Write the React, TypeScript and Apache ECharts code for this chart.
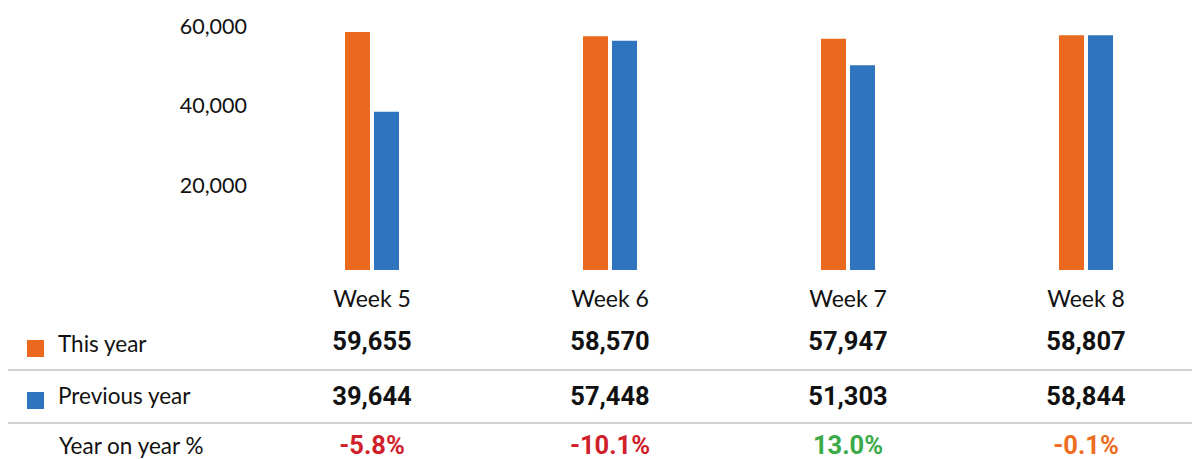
import React, { useEffect, useRef } from "react";
import * as echarts from "echarts";

const categories = ["Week 5", "Week 6", "Week 7", "Week 8"];
const thisYear = [59655, 58570, 57947, 58807];
const previousYear = [39644, 57448, 51303, 58844];
const yoyLabels = ["-5.8%", "-10.1%", "13.0%", "-0.1%"];
const yoyColors = ["#D0202A", "#D0202A", "#3BAA48", "#EE6C22"];
const seriesNames = ["This year", "Previous year"];
const yoyRowLabel = "Year on year %";

const ORANGE = "#EB681F";
const BLUE = "#2E74BE";
const fmt = (v: number) => v.toLocaleString("en-US");

export default function App() {
  const ref = useRef<HTMLDivElement>(null);
  useEffect(() => {
    document.body.style.margin = "0";
    const chart = echarts.init(ref.current!, null, { renderer: "svg" });
    const sansFont = "Lato";
    const numFont = "Roboto";
    const rowAxis = (data: string[], margin: number, extra: any = {}) => ({
      type: "category",
      gridIndex: 0,
      position: "bottom",
      data,
      axisLine: { show: false },
      axisTick: { show: false },
      splitLine: { show: false },
      axisLabel: {
        interval: 0,
        margin,
        verticalAlign: "middle",
        fontFamily: numFont,
        fontWeight: "bold",
        fontSize: 25.5,
        color: "#111",
        ...extra,
      },
    });
    chart.setOption({
      animation: false,
      grid: {
        left: 253,
        width: 952,
        top: 30.6,
        bottom: 189,
        outerBoundsMode: "none",
      },
      legend: {
        orient: "vertical",
        left: 22,
        top: 327,
        itemWidth: 17,
        itemHeight: 17,
        itemGap: 19,
        icon: "rect",
        data: seriesNames,
        selectedMode: false,
        formatter: "{a|{name}}",
        textStyle: {
          fontFamily: sansFont,
          fontSize: 22.5,
          color: "#111",
          padding: [0, 0, 0, 9],
          rich: {
            a: {
              fontFamily: sansFont,
              fontSize: 22.5,
              color: "#111",
              lineHeight: 22,
              padding: [0, 0, 10, 0],
            },
          },
        },
      },
      xAxis: [
        rowAxis(categories, 28, { fontFamily: sansFont, fontWeight: "normal", fontSize: 23 }),
        rowAxis(thisYear.map(fmt), 71),
        rowAxis(previousYear.map(fmt), 126),
        rowAxis(yoyLabels, 175, { color: (_v: any, i: number) => yoyColors[i] }),
      ],
      yAxis: {
        type: "value",
        min: 0,
        max: 60000,
        interval: 20000,
        axisLine: { show: false },
        axisTick: { show: false },
        splitLine: { show: false },
        axisLabel: {
          margin: 6,
          fontFamily: sansFont,
          fontSize: 21.5,
          color: "#111",
          verticalAlign: "bottom",
          lineHeight: 10,
          formatter: (v: number) => (v === 0 ? "" : fmt(v)),
        },
      },
      series: [
        {
          name: seriesNames[0],
          type: "bar",
          data: thisYear,
          barWidth: 25,
          barGap: "16%",
          itemStyle: { color: ORANGE },
        },
        {
          name: seriesNames[1],
          type: "bar",
          data: previousYear,
          barWidth: 25,
          itemStyle: { color: BLUE },
        },
      ],
      graphic: [
        {
          type: "line",
          shape: { x1: 8, y1: 370, x2: 1192, y2: 370 },
          style: { stroke: "#d2d2d2", lineWidth: 2 },
        },
        {
          type: "line",
          shape: { x1: 8, y1: 423, x2: 1192, y2: 423 },
          style: { stroke: "#d2d2d2", lineWidth: 2 },
        },
        {
          type: "text",
          x: 59,
          y: 445,
          style: {
            text: yoyRowLabel,
            fontFamily: sansFont,
            fontSize: 22.5,
            fill: "#111",
            verticalAlign: "middle",
          },
        },
      ],
    });
    return () => chart.dispose();
  }, []);
  return <div ref={ref} style={{ width: 1192, height: 459 }} />;
}
